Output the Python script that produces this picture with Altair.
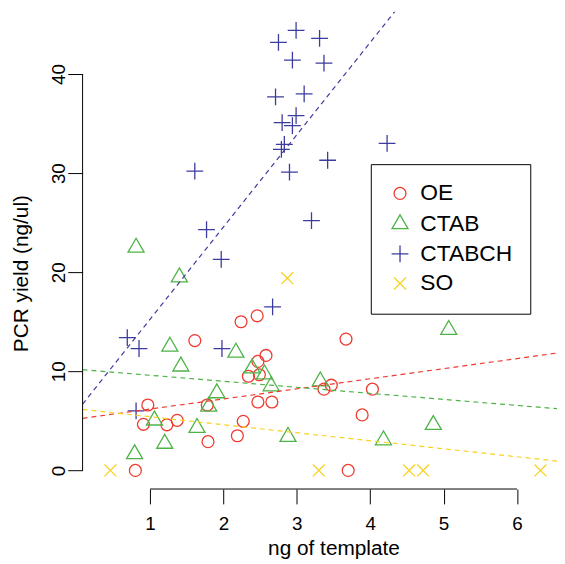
import altair as alt
import pandas as pd

# ---------------- data ----------------
groups = ["OE", "CTAB", "CTABCH", "SO"]
colors = ["#EE3B30", "#4DB346", "#3C3C9E", "#F9D11F"]

oe_x = [2.24, 2.46, 1.61, 2.58, 2.47, 2.34, 2.49, 3.67, 3.37, 3.47, 4.03, 3.89,
        3.70, 0.97, 0.91, 1.23, 1.37, 1.78, 1.79, 2.19, 2.27, 2.47, 2.66, 0.80]
oe_y = [15.0, 15.6, 13.1, 11.6, 11.0, 9.5, 9.65, 13.25, 8.2, 8.6, 8.2, 5.6,
        0.0, 6.6, 4.65, 4.6, 5.05, 6.6, 2.9, 3.5, 4.95, 6.9, 6.9, 0.0]

ctab_x = [0.81, 1.40, 1.27, 1.42, 2.17, 2.39, 2.56, 2.65, 3.32, 1.91,
          1.80, 5.07, 4.86, 4.18, 1.06, 1.64, 1.20, 0.79, 2.88]
ctab_y = [22.5, 19.5, 12.5, 10.5, 11.9, 10.3, 9.7, 8.5, 9.0, 7.8,
          6.45, 14.2, 4.6, 3.05, 5.05, 4.3, 2.7, 1.65, 3.4]

ctabch_x = [2.75, 2.99, 3.31, 2.94, 3.37, 2.71, 3.10, 2.80, 2.99, 2.94, 2.83, 2.79,
            3.42, 2.90, 4.23, 3.20, 1.61, 1.77, 1.97, 2.67, 0.69, 0.85, 1.98, 0.81]
ctabch_y = [43.2, 44.4, 43.6, 41.4, 41.1, 37.7, 38.0, 35.1, 35.8, 34.8, 32.9, 32.4,
            31.3, 30.1, 33.0, 25.2, 30.2, 24.3, 21.3, 16.5, 13.4, 12.3, 12.3, 6.0]

so_x = [0.46, 2.87, 3.30, 4.53, 4.72, 6.32]
so_y = [0.0, 19.4, 0.0, 0.0, 0.0, 0.0]

x_ticks = [1, 2, 3, 4, 5, 6]
y_ticks = [0, 10, 20, 30, 40]

rows = []
for g, xs_, ys_ in zip(groups, [oe_x, ctab_x, ctabch_x, so_x], [oe_y, ctab_y, ctabch_y, so_y]):
    rows += [{"group": g, "x": a, "y": b} for a, b in zip(xs_, ys_)]
df = pd.DataFrame(rows)

# ---------------- layout ----------------
W, H = 479, 482
x_dom = [0.081, 6.545]
y_dom = [-1.88, 46.3]
FONT = "Liberation Sans"

xs = alt.Scale(domain=x_dom, nice=False, zero=False)
ys = alt.Scale(domain=y_dom, nice=False, zero=False)

tri = "M0,-1.555L1.347,0.778L-1.347,0.778Z"
plus = "M-1.414,0L1.414,0M0,-1.414L0,1.414"
cross = "M-1,-1L1,1M-1,1L1,-1"

color_scale = alt.Scale(domain=groups, range=colors)
shape_scale = alt.Scale(domain=groups, range=["circle", tri, plus, cross])

leg = alt.Legend(
    title=None, orient="none", legendX=291, legendY=154,
    padding=18, strokeColor="black", fillColor="white",
    labelFontSize=23, labelFont=FONT, labelColor="black", labelOffset=9,
    rowPadding=6, symbolSize=144, symbolStrokeWidth=1.3,
)

x_axis = alt.Axis(
    values=x_ticks, domain=False, grid=False, tickSize=15, tickColor="black",
    tickWidth=1, labelFontSize=19, labelFont=FONT, labelColor="black",
    labelPadding=11, labelFlush=False, title="ng of template", titleFontSize=21,
    titleFont=FONT, titleFontWeight="normal", titleColor="black",
    titleX=253.3, titleY=66, titleAlign="center", titleBaseline="alphabetic",
)
y_axis = alt.Axis(
    values=y_ticks, domain=False, grid=False, tickSize=15, tickColor="black",
    tickWidth=1, labelFontSize=19, labelFont=FONT, labelColor="black",
    labelAngle=270, labelAlign="center", labelBaseline="alphabetic",
    labelPadding=3, labelFlush=False, title="PCR yield (ng/ul)", titleFontSize=21,
    titleFont=FONT, titleFontWeight="normal", titleColor="black",
    titleAngle=270, titleX=-56, titleY=264, titleAlign="center",
    titleBaseline="alphabetic",
)

points = alt.Chart(df).mark_point(filled=False, size=144, strokeWidth=1.3, opacity=1).encode(
    x=alt.X("x:Q", scale=xs, axis=x_axis),
    y=alt.Y("y:Q", scale=ys, axis=y_axis),
    color=alt.Color("group:N", scale=color_scale, legend=leg),
    shape=alt.Shape("group:N", scale=shape_scale, legend=leg),
)

lines = alt.Chart(df).transform_regression(
    "x", "y", groupby=["group"], extent=x_dom
).mark_line(strokeDash=[5, 4], strokeWidth=1.2, clip=True).encode(
    x=alt.X("x:Q", scale=xs, axis=x_axis),
    y=alt.Y("y:Q", scale=ys, axis=y_axis),
    stroke=alt.Stroke("group:N", scale=alt.Scale(domain=groups, range=colors), legend=None),
)

xr = pd.DataFrame({"x": [min(x_ticks)], "b": [max(x_ticks)]})
yr = pd.DataFrame({"y": [min(y_ticks)], "b": [max(y_ticks)]})
x_rule = alt.Chart(xr).mark_rule(color="black", strokeWidth=1).encode(
    x=alt.X("x:Q", scale=xs, axis=x_axis), x2="b:Q", y=alt.value(H))
y_rule = alt.Chart(yr).mark_rule(color="black", strokeWidth=1).encode(
    y=alt.Y("y:Q", scale=ys, axis=y_axis), y2="b:Q", x=alt.value(0))

chart = alt.layer(points, lines, x_rule, y_rule).properties(
    width=W, height=H,
    autosize=alt.AutoSizeParams(type="none"),
    padding={"left": 75.3, "top": 1, "right": 0, "bottom": 70},
).configure_view(stroke=None)

chart.save("out.html", embed_options={"renderer": "svg", "actions": False})
